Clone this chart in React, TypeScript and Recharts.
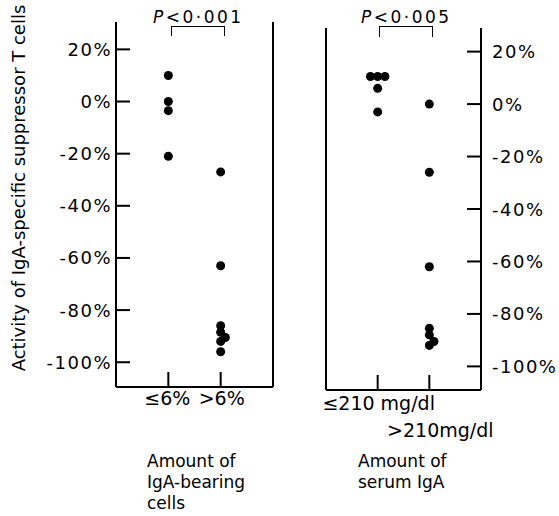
import React from "react";
import { ScatterChart, Scatter, XAxis, YAxis, ReferenceLine } from "recharts";

// activity values (%)
const cellsLow = [10, 0, -3.5, -21];
const cellsHigh = [-27, -63, -86, -88.5, -90.5, -92, -96];
const cellsHighJitter = [0, 0, 0, 0, 0.09, 0, 0];

const serumLow = [10.5, 10.5, 10.5, 6, -3];
const serumLowJitter = [-0.14, 0, 0.14, 0, 0];
const serumHigh = [0, -26, -62, -85.5, -88, -90.5, -92];
const serumHighJitter = [0, 0, 0, 0, 0, 0.09, 0];

const yTicks = [20, 0, -20, -40, -60, -80, -100];
const cellsCats = ["≤6%", ">6%"];
const serumCats = ["≤210 mg/dl", ">210mg/dl"];

const FONT = "'DejaVu Sans', sans-serif";

const toPoints = (vals: number[], cat: number, jitter?: number[]) =>
  vals.map((v, i) => ({ x: cat + (jitter ? jitter[i] : 0), y: v }));

const Dot = (p: any) => <circle cx={p.cx} cy={p.cy} r={4.5} fill="#000" />;

const LeftTick = (p: any) => (
  <g>
    <line x1={p.x} x2={p.x + 14} y1={p.y} y2={p.y} stroke="#000" strokeWidth={2} />
    <text x={p.x - 4} y={p.y} textAnchor="end" dominantBaseline="central" fontSize={18} letterSpacing={1.5} fontFamily={FONT} fill="#000">
      {p.payload.value}%
    </text>
  </g>
);

const RightTick = (p: any) => (
  <g>
    <line x1={p.x} x2={p.x - 14} y1={p.y} y2={p.y} stroke="#000" strokeWidth={2} />
    <text x={p.x + 11} y={p.y} textAnchor="start" dominantBaseline="central" fontSize={18} letterSpacing={1.5} fontFamily={FONT} fill="#000">
      {p.payload.value}%
    </text>
  </g>
);

const makeXTick = (labels: string[], offsets: { dx: number; dy: number }[]) => (p: any) => {
  const i = Math.round(p.payload.value) - 1;
  const o = offsets[i];
  return (
    <g>
      <line x1={p.x} x2={p.x} y1={p.y} y2={p.y - 15} stroke="#000" strokeWidth={2} />
      <text x={p.x + o.dx} y={p.y + o.dy} textAnchor="middle" dominantBaseline="central" fontSize={19} fontFamily={FONT} fill="#000">
        {labels[i]}
      </text>
    </g>
  );
};

const CellsXTick = makeXTick(cellsCats, [{ dx: -1, dy: 11 }, { dx: 1, dy: 11 }]);
const SerumXTick = makeXTick(serumCats, [{ dx: 1, dy: 13 }, { dx: 11, dy: 40 }]);

const abs = (l: number, t: number): React.CSSProperties => ({ position: "absolute", left: l, top: t });

export default function App() {
  const txt: React.CSSProperties = { fontFamily: FONT, fontSize: 17, color: "#000", whiteSpace: "nowrap", lineHeight: "21px" };
  return (
    <div style={{ position: "absolute", left: 0, top: 0, width: 559, height: 516, background: "#fff", overflow: "hidden" }}>
      <div style={abs(0, 0)}>
        <ScatterChart width={280} height={516} margin={{ top: 22, right: 7, bottom: 0, left: 0 }}>
          <XAxis type="number" dataKey="x" domain={[0, 3]} ticks={[1, 2]} allowDataOverflow height={129}
            axisLine={{ stroke: "#000", strokeWidth: 2 }} tickLine={false} tickSize={0} tickMargin={0} tick={<CellsXTick />} />
          <YAxis type="number" dataKey="y" domain={[-109.5, 30.5]} ticks={yTicks} allowDataOverflow width={116}
            axisLine={{ stroke: "#000", strokeWidth: 2 }} tickLine={false} tickSize={0} tickMargin={0} tick={<LeftTick />} />
          <ReferenceLine x={3} stroke="#000" strokeWidth={2} />
          <Scatter data={toPoints(cellsLow, 1)} shape={Dot} isAnimationActive={false} />
          <Scatter data={toPoints(cellsHigh, 2, cellsHighJitter)} shape={Dot} isAnimationActive={false} />
        </ScatterChart>
      </div>
      <div style={abs(280, 0)}>
        <ScatterChart width={279} height={516} margin={{ top: 28, right: 0, bottom: 0, left: 46 }}>
          <XAxis type="number" dataKey="x" domain={[0, 3]} ticks={[1, 2]} allowDataOverflow height={126}
            axisLine={{ stroke: "#000", strokeWidth: 2 }} tickLine={false} tickSize={0} tickMargin={0} tick={<SerumXTick />} />
          <YAxis type="number" dataKey="y" orientation="right" domain={[-109, 29]} ticks={yTicks} allowDataOverflow width={78}
            axisLine={{ stroke: "#000", strokeWidth: 2 }} tickLine={false} tickSize={0} tickMargin={0} tick={<RightTick />} />
          <ReferenceLine x={0} stroke="#000" strokeWidth={2} />
          <Scatter data={toPoints(serumLow, 1, serumLowJitter)} shape={Dot} isAnimationActive={false} />
          <Scatter data={toPoints(serumHigh, 2, serumHighJitter)} shape={Dot} isAnimationActive={false} />
        </ScatterChart>
      </div>

      {/* y axis title */}
      <div style={{ ...txt, position: "absolute", left: 19 - 220, top: 188 - 11, width: 440, textAlign: "center", fontSize: 18, lineHeight: "22px", transform: "rotate(-90deg)" }}>
        Activity of IgA-specific suppressor T cells
      </div>

      {/* significance brackets */}
      <div style={{ ...txt, ...abs(153, 7), letterSpacing: 2.5 }}><i>P</i>&lt;0·001</div>
      <div style={{ ...abs(171, 26), width: 52, height: 9, borderTop: "1.5px solid #000", borderLeft: "1.5px solid #000", borderRight: "1.5px solid #000" }} />
      <div style={{ ...txt, ...abs(361, 7), letterSpacing: 2.5 }}><i>P</i>&lt;0·005</div>
      <div style={{ ...abs(379, 26), width: 52, height: 10, borderTop: "1.5px solid #000", borderLeft: "1.5px solid #000", borderRight: "1.5px solid #000" }} />

      {/* captions */}
      <div style={{ ...txt, ...abs(147, 451) }}>Amount of<br />IgA-bearing<br />cells</div>
      <div style={{ ...txt, ...abs(358, 451) }}>Amount of<br />serum IgA</div>
    </div>
  );
}
